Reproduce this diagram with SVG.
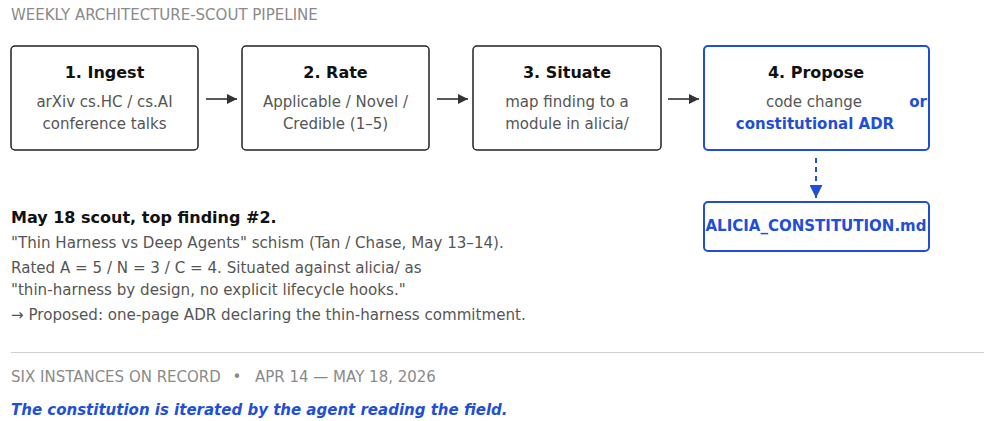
<svg xmlns="http://www.w3.org/2000/svg" width="984" height="421" viewBox="0 0 984 421">
<style>
text{font-family:"DejaVu Sans","Noto Sans",sans-serif}
.cap{font-size:15px;fill:#8a8a8a}
.box{fill:#fff;stroke:#222;stroke-width:1.5}
.boxb{fill:#fff;stroke:#1f4fd8;stroke-width:2}
.ttl{font-size:16px;font-weight:bold;fill:#111;text-anchor:middle}
.sub{font-size:15px;fill:#555;text-anchor:middle}
.blue{font-size:15px;font-weight:bold;fill:#1f4fd8}
.body{font-size:15.1px;fill:#555}
.arr{stroke:#333;stroke-width:1.6;fill:none}
</style>
<defs>
<marker id="ah" viewBox="0 0 10 10" refX="10" refY="5" markerWidth="10" markerHeight="10" markerUnits="userSpaceOnUse" orient="auto"><path d="M0,0 L10,5 L0,10 z" fill="#333"/></marker>
<marker id="ahb" viewBox="0 0 12 12" refX="12" refY="6" markerWidth="13" markerHeight="13" markerUnits="userSpaceOnUse" orient="auto"><path d="M0,0 L12,6 L0,12 z" fill="#1f4fd8"/></marker>
</defs>
<text class="cap" x="11" y="20">WEEKLY ARCHITECTURE-SCOUT PIPELINE</text>
<g id="n1"><rect class="box" x="11" y="46" width="187" height="104" rx="4"/><text class="ttl" x="104.5" y="78">1. Ingest</text><text class="sub" x="104.5" y="107">arXiv cs.HC / cs.AI</text><text class="sub" x="104.5" y="129">conference talks</text></g>
<g id="n2"><rect class="box" x="242" y="46" width="187" height="104" rx="4"/><text class="ttl" x="335.5" y="78">2. Rate</text><text class="sub" x="335.5" y="107">Applicable / Novel /</text><text class="sub" x="335.5" y="129">Credible (1–5)</text></g>
<g id="n3"><rect class="box" x="473" y="46" width="188" height="104" rx="4"/><text class="ttl" x="567" y="78">3. Situate</text><text class="sub" x="567" y="107">map finding to a</text><text class="sub" x="567" y="129">module in alicia/</text></g>
<g id="n4"><rect class="boxb" x="704" y="46" width="225" height="104" rx="4"/><text class="ttl" x="816" y="78">4. Propose</text><text class="sub" x="814" y="107">code change</text><text class="blue" x="927" y="107" text-anchor="end">or</text><text class="blue" x="815" y="129" text-anchor="middle">constitutional ADR</text></g>
<g id="n5"><rect class="boxb" x="704" y="202" width="225" height="49" rx="4"/><text class="blue" x="816" y="231" text-anchor="middle">ALICIA_CONSTITUTION.md</text></g>
<g id="connectors">
<line class="arr" x1="206" y1="99" x2="237" y2="99" marker-end="url(#ah)"/>
<line class="arr" x1="437" y1="99" x2="468" y2="99" marker-end="url(#ah)"/>
<line class="arr" x1="668" y1="99" x2="699" y2="99" marker-end="url(#ah)"/>
<line x1="816" y1="158" x2="816" y2="198" stroke="#1f4fd8" stroke-width="2" stroke-dasharray="5,4" marker-end="url(#ahb)"/>
</g>
<g id="finding">
<text x="11" y="223" style="font-size:16px;font-weight:bold;fill:#111">May 18 scout, top finding #2.</text>
<text class="body" x="11" y="248">"Thin Harness vs Deep Agents" schism (Tan / Chase, May 13–14).</text>
<text class="body" x="11" y="273">Rated A = 5 / N = 3 / C = 4. Situated against alicia/ as</text>
<text class="body" x="11" y="295">"thin-harness by design, no explicit lifecycle hooks."</text>
<text class="body" x="11" y="320">→ Proposed: one-page ADR declaring the thin-harness commitment.</text>
</g>
<line x1="11" y1="352.5" x2="984" y2="352.5" stroke="#d0d0d0" stroke-width="1"/>
<text class="cap" x="11" y="382">SIX INSTANCES ON RECORD</text>
<text class="cap" x="237" y="382" text-anchor="middle">•</text>
<text class="cap" x="255" y="382">APR 14 — MAY 18, 2026</text>
<text x="11" y="415" style="font-size:15px;font-weight:bold;font-style:italic;fill:#1f4fd8">The constitution is iterated by the agent reading the field.</text>
</svg>
